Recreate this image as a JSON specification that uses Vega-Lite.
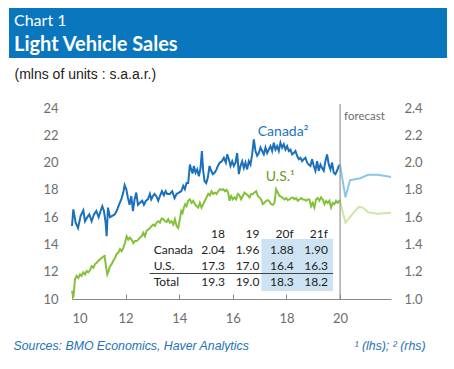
{
  "$schema": "https://vega.github.io/schema/vega-lite/v6.json",
  "padding": {"left": 9, "top": 7, "right": 7, "bottom": 0},
  "background": "white",
  "width": 319,
  "height": 191,
  "config": {
    "font": "Lato",
    "view": {"stroke": null},
    "axis": {"labelFont": "Lato", "titleFont": "Liberation Sans"}
  },
  "datasets": {
    "canada": [
      {"series":"Canada","t":2010.0,"v":1.535},{"series":"Canada","t":2010.05,"v":1.657},{"series":"Canada","t":2010.137,"v":1.56},{"series":"Canada","t":2010.224,"v":1.52},{"series":"Canada","t":2010.323,"v":1.61},{"series":"Canada","t":2010.422,"v":1.65},{"series":"Canada","t":2010.484,"v":1.57},{"series":"Canada","t":2010.571,"v":1.6},{"series":"Canada","t":2010.646,"v":1.62},{"series":"Canada","t":2010.733,"v":1.57},{"series":"Canada","t":2010.82,"v":1.62},{"series":"Canada","t":2010.907,"v":1.645},{"series":"Canada","t":2010.994,"v":1.6},
      {"series":"Canada","t":2011.068,"v":1.645},{"series":"Canada","t":2011.13,"v":1.68},{"series":"Canada","t":2011.193,"v":1.645},{"series":"Canada","t":2011.255,"v":1.56},{"series":"Canada","t":2011.292,"v":1.46},{"series":"Canada","t":2011.342,"v":1.67},{"series":"Canada","t":2011.416,"v":1.6},{"series":"Canada","t":2011.503,"v":1.61},{"series":"Canada","t":2011.59,"v":1.62},{"series":"Canada","t":2011.665,"v":1.645},{"series":"Canada","t":2011.752,"v":1.69},{"series":"Canada","t":2011.839,"v":1.73},{"series":"Canada","t":2011.913,"v":1.78},{"series":"Canada","t":2011.963,"v":1.835},
      {"series":"Canada","t":2012.025,"v":1.805},{"series":"Canada","t":2012.087,"v":1.74},{"series":"Canada","t":2012.149,"v":1.69},{"series":"Canada","t":2012.211,"v":1.755},{"series":"Canada","t":2012.273,"v":1.645},{"series":"Canada","t":2012.335,"v":1.73},{"series":"Canada","t":2012.398,"v":1.78},{"series":"Canada","t":2012.46,"v":1.69},{"series":"Canada","t":2012.534,"v":1.705},{"series":"Canada","t":2012.621,"v":1.72},{"series":"Canada","t":2012.683,"v":1.69},{"series":"Canada","t":2012.758,"v":1.72},{"series":"Canada","t":2012.832,"v":1.73},{"series":"Canada","t":2012.907,"v":1.77},{"series":"Canada","t":2012.957,"v":1.73},
      {"series":"Canada","t":2013.019,"v":1.755},{"series":"Canada","t":2013.081,"v":1.77},{"series":"Canada","t":2013.155,"v":1.75},{"series":"Canada","t":2013.217,"v":1.72},{"series":"Canada","t":2013.28,"v":1.755},{"series":"Canada","t":2013.354,"v":1.79},{"series":"Canada","t":2013.429,"v":1.76},{"series":"Canada","t":2013.491,"v":1.79},{"series":"Canada","t":2013.553,"v":1.77},{"series":"Canada","t":2013.652,"v":1.77},{"series":"Canada","t":2013.739,"v":1.79},{"series":"Canada","t":2013.826,"v":1.74},{"series":"Canada","t":2013.901,"v":1.77},{"series":"Canada","t":2013.988,"v":1.78},
      {"series":"Canada","t":2014.075,"v":1.79},{"series":"Canada","t":2014.149,"v":1.83},{"series":"Canada","t":2014.211,"v":1.805},{"series":"Canada","t":2014.273,"v":1.85},{"series":"Canada","t":2014.335,"v":1.85},{"series":"Canada","t":2014.398,"v":1.985},{"series":"Canada","t":2014.447,"v":1.95},{"series":"Canada","t":2014.497,"v":1.92},{"series":"Canada","t":2014.547,"v":1.975},{"series":"Canada","t":2014.609,"v":1.925},{"series":"Canada","t":2014.671,"v":1.95},{"series":"Canada","t":2014.733,"v":1.9},{"series":"Canada","t":2014.795,"v":1.96},{"series":"Canada","t":2014.845,"v":2.085},{"series":"Canada","t":2014.894,"v":1.94},{"series":"Canada","t":2014.944,"v":1.865},
      {"series":"Canada","t":2015.006,"v":1.85},{"series":"Canada","t":2015.068,"v":1.89},{"series":"Canada","t":2015.13,"v":1.975},{"series":"Canada","t":2015.193,"v":1.94},{"series":"Canada","t":2015.255,"v":1.915},{"series":"Canada","t":2015.317,"v":1.925},{"series":"Canada","t":2015.391,"v":1.95},{"series":"Canada","t":2015.441,"v":1.975},{"series":"Canada","t":2015.516,"v":2.0},{"series":"Canada","t":2015.59,"v":2.01},{"series":"Canada","t":2015.665,"v":2.035},{"series":"Canada","t":2015.739,"v":2.0},{"series":"Canada","t":2015.789,"v":2.06},{"series":"Canada","t":2015.851,"v":2.025},{"series":"Canada","t":2015.913,"v":1.975},{"series":"Canada","t":2015.975,"v":2.01},
      {"series":"Canada","t":2016.037,"v":1.975},{"series":"Canada","t":2016.099,"v":2.0},{"series":"Canada","t":2016.161,"v":2.07},{"series":"Canada","t":2016.224,"v":1.915},{"series":"Canada","t":2016.286,"v":1.975},{"series":"Canada","t":2016.348,"v":2.01},{"series":"Canada","t":2016.41,"v":1.96},{"series":"Canada","t":2016.472,"v":2.0},{"series":"Canada","t":2016.534,"v":1.95},{"series":"Canada","t":2016.596,"v":2.01},{"series":"Canada","t":2016.658,"v":1.985},{"series":"Canada","t":2016.72,"v":2.06},{"series":"Canada","t":2016.783,"v":2.17},{"series":"Canada","t":2016.845,"v":2.085},{"series":"Canada","t":2016.907,"v":2.05},{"series":"Canada","t":2016.969,"v":2.07},
      {"series":"Canada","t":2017.031,"v":2.11},{"series":"Canada","t":2017.093,"v":2.085},{"series":"Canada","t":2017.155,"v":2.06},{"series":"Canada","t":2017.217,"v":2.11},{"series":"Canada","t":2017.28,"v":2.07},{"series":"Canada","t":2017.342,"v":2.095},{"series":"Canada","t":2017.404,"v":2.12},{"series":"Canada","t":2017.466,"v":2.085},{"series":"Canada","t":2017.528,"v":2.145},{"series":"Canada","t":2017.59,"v":2.095},{"series":"Canada","t":2017.652,"v":2.12},{"series":"Canada","t":2017.714,"v":2.085},{"series":"Canada","t":2017.776,"v":2.145},{"series":"Canada","t":2017.839,"v":2.11},{"series":"Canada","t":2017.901,"v":2.135},{"series":"Canada","t":2017.963,"v":2.095},
      {"series":"Canada","t":2018.025,"v":2.12},{"series":"Canada","t":2018.087,"v":2.085},{"series":"Canada","t":2018.149,"v":2.095},{"series":"Canada","t":2018.211,"v":2.06},{"series":"Canada","t":2018.273,"v":2.07},{"series":"Canada","t":2018.335,"v":2.085},{"series":"Canada","t":2018.398,"v":2.05},{"series":"Canada","t":2018.46,"v":2.025},{"series":"Canada","t":2018.522,"v":2.035},{"series":"Canada","t":2018.584,"v":2.01},{"series":"Canada","t":2018.646,"v":2.025},{"series":"Canada","t":2018.708,"v":2.035},{"series":"Canada","t":2018.77,"v":2.0},{"series":"Canada","t":2018.832,"v":1.985},{"series":"Canada","t":2018.894,"v":1.975},{"series":"Canada","t":2018.957,"v":2.025},
      {"series":"Canada","t":2019.019,"v":1.975},{"series":"Canada","t":2019.081,"v":1.94},{"series":"Canada","t":2019.143,"v":2.01},{"series":"Canada","t":2019.205,"v":1.94},{"series":"Canada","t":2019.267,"v":1.985},{"series":"Canada","t":2019.329,"v":1.96},{"series":"Canada","t":2019.391,"v":1.94},{"series":"Canada","t":2019.453,"v":2.01},{"series":"Canada","t":2019.516,"v":2.06},{"series":"Canada","t":2019.578,"v":1.985},{"series":"Canada","t":2019.64,"v":1.95},{"series":"Canada","t":2019.702,"v":2.0},{"series":"Canada","t":2019.764,"v":1.925},{"series":"Canada","t":2019.826,"v":1.915},{"series":"Canada","t":2019.888,"v":1.94},{"series":"Canada","t":2019.95,"v":1.975},{"series":"Canada","t":2020.0,"v":1.985},
      {"series":"Canada f","t":2020.0,"v":1.985},{"series":"Canada f","t":2020.2,"v":1.745},{"series":"Canada f","t":2020.37,"v":1.87},{"series":"Canada f","t":2020.6,"v":1.88},{"series":"Canada f","t":2020.75,"v":1.885},{"series":"Canada f","t":2021.05,"v":1.91},{"series":"Canada f","t":2021.4,"v":1.91},{"series":"Canada f","t":2021.75,"v":1.9},{"series":"Canada f","t":2021.9,"v":1.895}
    ],
    "us": [
      {"series":"U.S.","t":2010.0,"v":10.6},{"series":"U.S.","t":2010.05,"v":10.1},{"series":"U.S.","t":2010.112,"v":11.45},{"series":"U.S.","t":2010.174,"v":11.7},{"series":"U.S.","t":2010.236,"v":11.55},{"series":"U.S.","t":2010.298,"v":11.8},{"series":"U.S.","t":2010.36,"v":11.7},{"series":"U.S.","t":2010.422,"v":11.95},{"series":"U.S.","t":2010.484,"v":11.8},{"series":"U.S.","t":2010.547,"v":12.05},{"series":"U.S.","t":2010.609,"v":11.95},{"series":"U.S.","t":2010.671,"v":12.1},{"series":"U.S.","t":2010.733,"v":12.4},{"series":"U.S.","t":2010.795,"v":12.3},{"series":"U.S.","t":2010.857,"v":12.55},{"series":"U.S.","t":2010.919,"v":12.65},{"series":"U.S.","t":2010.981,"v":12.8},
      {"series":"U.S.","t":2011.043,"v":12.9},{"series":"U.S.","t":2011.106,"v":13.0},{"series":"U.S.","t":2011.168,"v":13.1},{"series":"U.S.","t":2011.217,"v":13.15},{"series":"U.S.","t":2011.267,"v":12.4},{"series":"U.S.","t":2011.317,"v":11.8},{"series":"U.S.","t":2011.366,"v":12.05},{"series":"U.S.","t":2011.416,"v":12.4},{"series":"U.S.","t":2011.478,"v":12.55},{"series":"U.S.","t":2011.54,"v":12.8},{"series":"U.S.","t":2011.602,"v":13.0},{"series":"U.S.","t":2011.665,"v":13.3},{"series":"U.S.","t":2011.727,"v":13.4},{"series":"U.S.","t":2011.789,"v":13.65},{"series":"U.S.","t":2011.851,"v":13.5},{"series":"U.S.","t":2011.913,"v":13.75},{"series":"U.S.","t":2011.975,"v":14.1},
      {"series":"U.S.","t":2012.037,"v":14.6},{"series":"U.S.","t":2012.099,"v":14.35},{"series":"U.S.","t":2012.161,"v":14.5},{"series":"U.S.","t":2012.224,"v":14.35},{"series":"U.S.","t":2012.286,"v":14.1},{"series":"U.S.","t":2012.348,"v":14.25},{"series":"U.S.","t":2012.41,"v":14.25},{"series":"U.S.","t":2012.472,"v":14.35},{"series":"U.S.","t":2012.534,"v":14.5},{"series":"U.S.","t":2012.596,"v":14.6},{"series":"U.S.","t":2012.658,"v":14.85},{"series":"U.S.","t":2012.72,"v":14.6},{"series":"U.S.","t":2012.783,"v":15.0},{"series":"U.S.","t":2012.845,"v":15.1},{"series":"U.S.","t":2012.907,"v":15.2},{"series":"U.S.","t":2012.969,"v":15.35},
      {"series":"U.S.","t":2013.031,"v":15.45},{"series":"U.S.","t":2013.093,"v":15.35},{"series":"U.S.","t":2013.155,"v":15.6},{"series":"U.S.","t":2013.217,"v":15.7},{"series":"U.S.","t":2013.28,"v":15.6},{"series":"U.S.","t":2013.342,"v":15.9},{"series":"U.S.","t":2013.404,"v":15.85},{"series":"U.S.","t":2013.466,"v":15.7},{"series":"U.S.","t":2013.528,"v":15.65},{"series":"U.S.","t":2013.59,"v":15.85},{"series":"U.S.","t":2013.652,"v":15.6},{"series":"U.S.","t":2013.714,"v":15.7},{"series":"U.S.","t":2013.776,"v":15.45},{"series":"U.S.","t":2013.839,"v":15.85},{"series":"U.S.","t":2013.901,"v":15.35},{"series":"U.S.","t":2013.963,"v":15.2},
      {"series":"U.S.","t":2014.025,"v":15.85},{"series":"U.S.","t":2014.075,"v":16.45},{"series":"U.S.","t":2014.124,"v":16.3},{"series":"U.S.","t":2014.174,"v":16.7},{"series":"U.S.","t":2014.224,"v":16.95},{"series":"U.S.","t":2014.273,"v":16.8},{"series":"U.S.","t":2014.335,"v":17.2},{"series":"U.S.","t":2014.398,"v":17.3},{"series":"U.S.","t":2014.46,"v":17.05},{"series":"U.S.","t":2014.522,"v":17.2},{"series":"U.S.","t":2014.584,"v":16.95},{"series":"U.S.","t":2014.646,"v":16.8},{"series":"U.S.","t":2014.708,"v":16.7},{"series":"U.S.","t":2014.77,"v":17.05},{"series":"U.S.","t":2014.832,"v":16.7},{"series":"U.S.","t":2014.894,"v":16.95},{"series":"U.S.","t":2014.957,"v":17.2},
      {"series":"U.S.","t":2015.019,"v":17.45},{"series":"U.S.","t":2015.081,"v":17.7},{"series":"U.S.","t":2015.143,"v":17.6},{"series":"U.S.","t":2015.205,"v":17.9},{"series":"U.S.","t":2015.267,"v":17.7},{"series":"U.S.","t":2015.329,"v":17.8},{"series":"U.S.","t":2015.391,"v":17.7},{"series":"U.S.","t":2015.453,"v":17.9},{"series":"U.S.","t":2015.516,"v":18.05},{"series":"U.S.","t":2015.578,"v":18.0},{"series":"U.S.","t":2015.64,"v":18.05},{"series":"U.S.","t":2015.702,"v":17.9},{"series":"U.S.","t":2015.764,"v":18.0},{"series":"U.S.","t":2015.826,"v":17.8},{"series":"U.S.","t":2015.876,"v":17.2},{"series":"U.S.","t":2015.938,"v":17.55},
      {"series":"U.S.","t":2016.0,"v":17.3},{"series":"U.S.","t":2016.062,"v":17.45},{"series":"U.S.","t":2016.124,"v":17.3},{"series":"U.S.","t":2016.186,"v":17.7},{"series":"U.S.","t":2016.248,"v":17.6},{"series":"U.S.","t":2016.311,"v":17.3},{"series":"U.S.","t":2016.373,"v":17.55},{"series":"U.S.","t":2016.435,"v":17.8},{"series":"U.S.","t":2016.497,"v":17.7},{"series":"U.S.","t":2016.559,"v":17.6},{"series":"U.S.","t":2016.621,"v":17.45},{"series":"U.S.","t":2016.683,"v":17.7},{"series":"U.S.","t":2016.745,"v":17.7},{"series":"U.S.","t":2016.807,"v":17.8},{"series":"U.S.","t":2016.87,"v":17.9},{"series":"U.S.","t":2016.932,"v":17.55},{"series":"U.S.","t":2016.994,"v":17.45},
      {"series":"U.S.","t":2017.056,"v":17.3},{"series":"U.S.","t":2017.118,"v":16.95},{"series":"U.S.","t":2017.18,"v":17.05},{"series":"U.S.","t":2017.242,"v":17.2},{"series":"U.S.","t":2017.304,"v":17.25},{"series":"U.S.","t":2017.366,"v":17.15},{"series":"U.S.","t":2017.429,"v":16.95},{"series":"U.S.","t":2017.491,"v":16.9},{"series":"U.S.","t":2017.553,"v":17.05},{"series":"U.S.","t":2017.615,"v":18.05},{"series":"U.S.","t":2017.677,"v":17.8},{"series":"U.S.","t":2017.739,"v":17.55},{"series":"U.S.","t":2017.801,"v":17.5},{"series":"U.S.","t":2017.863,"v":17.4},{"series":"U.S.","t":2017.925,"v":17.3},{"series":"U.S.","t":2017.988,"v":17.4},
      {"series":"U.S.","t":2018.05,"v":17.25},{"series":"U.S.","t":2018.112,"v":17.3},{"series":"U.S.","t":2018.174,"v":17.4},{"series":"U.S.","t":2018.236,"v":17.45},{"series":"U.S.","t":2018.298,"v":17.3},{"series":"U.S.","t":2018.36,"v":17.4},{"series":"U.S.","t":2018.422,"v":17.2},{"series":"U.S.","t":2018.484,"v":17.3},{"series":"U.S.","t":2018.547,"v":17.4},{"series":"U.S.","t":2018.609,"v":17.3},{"series":"U.S.","t":2018.671,"v":17.3},{"series":"U.S.","t":2018.733,"v":17.2},{"series":"U.S.","t":2018.795,"v":17.3},{"series":"U.S.","t":2018.857,"v":17.3},{"series":"U.S.","t":2018.919,"v":16.8},{"series":"U.S.","t":2018.981,"v":17.05},
      {"series":"U.S.","t":2019.043,"v":16.7},{"series":"U.S.","t":2019.106,"v":17.3},{"series":"U.S.","t":2019.168,"v":17.4},{"series":"U.S.","t":2019.23,"v":17.2},{"series":"U.S.","t":2019.292,"v":17.45},{"series":"U.S.","t":2019.354,"v":17.3},{"series":"U.S.","t":2019.416,"v":16.95},{"series":"U.S.","t":2019.478,"v":17.2},{"series":"U.S.","t":2019.54,"v":17.05},{"series":"U.S.","t":2019.602,"v":17.2},{"series":"U.S.","t":2019.665,"v":16.7},{"series":"U.S.","t":2019.727,"v":17.05},{"series":"U.S.","t":2019.789,"v":16.95},{"series":"U.S.","t":2019.851,"v":17.2},{"series":"U.S.","t":2019.913,"v":17.05},{"series":"U.S.","t":2019.975,"v":17.2},{"series":"U.S.","t":2020.0,"v":17.15},
      {"series":"U.S. f","t":2020.0,"v":17.15},{"series":"U.S. f","t":2020.2,"v":15.6},{"series":"U.S. f","t":2020.45,"v":16.2},{"series":"U.S. f","t":2020.7,"v":16.75},{"series":"U.S. f","t":2020.85,"v":16.7},{"series":"U.S. f","t":2021.05,"v":16.35},{"series":"U.S. f","t":2021.4,"v":16.25},{"series":"U.S. f","t":2021.9,"v":16.33}
    ],
    "table": [
      {"row":"hdr","col":"18","text":"18"},{"row":"hdr","col":"19","text":"19"},{"row":"hdr","col":"20f","text":"20f"},{"row":"hdr","col":"21f","text":"21f"},
      {"row":"Canada","col":"label","text":"Canada"},{"row":"Canada","col":"18","text":"2.04"},{"row":"Canada","col":"19","text":"1.96"},{"row":"Canada","col":"20f","text":"1.88"},{"row":"Canada","col":"21f","text":"1.90"},
      {"row":"U.S.","col":"label","text":"U.S."},{"row":"U.S.","col":"18","text":"17.3"},{"row":"U.S.","col":"19","text":"17.0"},{"row":"U.S.","col":"20f","text":"16.4"},{"row":"U.S.","col":"21f","text":"16.3"},
      {"row":"Total","col":"label","text":"Total"},{"row":"Total","col":"18","text":"19.3"},{"row":"Total","col":"19","text":"19.0"},{"row":"Total","col":"20f","text":"18.3"},{"row":"Total","col":"21f","text":"18.2"}
    ],
    "notes": [
      {"label": "note"}
    ]
  },
  "resolve": {"scale": {"x": "independent", "y": "independent"}},
  "layer": [
    {
      "data": {"name": "notes"},
      "mark": {"type": "rect", "color": "#0a76be"},
      "encoding": {
        "x": {"datum": 2007.65, "type": "quantitative", "scale": {"domain": [2010, 2021.9], "nice": false, "zero": false}, "axis": null},
        "x2": {"datum": 2023.99},
        "y": {"datum": 31.33, "type": "quantitative", "scale": {"domain": [10, 24], "nice": false, "zero": false}, "axis": null},
        "y2": {"datum": 27.665}
      }
    },
    {
      "data": {"name": "notes"},
      "mark": {"type": "text", "align": "left", "baseline": "alphabetic", "fontSize": 16, "color": "white"},
      "encoding": {
        "x": {"datum": 2007.836, "type": "quantitative", "scale": {"domain": [2010, 2021.9], "nice": false, "zero": false}, "axis": null},
        "y": {"datum": 30.01, "type": "quantitative", "scale": {"domain": [10, 24], "nice": false, "zero": false}, "axis": null},
        "text": {"value": "Chart 1"}
      }
    },
    {
      "data": {"name": "notes"},
      "mark": {"type": "text", "align": "left", "baseline": "alphabetic", "fontSize": 20, "fontWeight": "bold", "color": "white"},
      "encoding": {
        "x": {"datum": 2007.836, "type": "quantitative", "scale": {"domain": [2010, 2021.9], "nice": false, "zero": false}, "axis": null},
        "y": {"datum": 28.18, "type": "quantitative", "scale": {"domain": [10, 24], "nice": false, "zero": false}, "axis": null},
        "text": {"value": "Light Vehicle Sales"}
      }
    },
    {
      "data": {"name": "us"},
      "mark": {"type": "line", "strokeWidth": 2},
      "encoding": {
        "x": {
          "field": "t", "type": "quantitative",
          "scale": {"domain": [2010, 2021.9], "nice": false, "zero": false},
          "axis": {
            "values": [2010, 2012, 2014, 2016, 2018, 2020],
            "labelExpr": "format(datum.value - 2000, 'd')",
            "grid": false,
            "tickSize": -5,
            "tickColor": "#8a8a8a",
            "domainColor": "#8a8a8a",
            "labelColor": "#6d6d6d",
            "labelFontSize": 13,
            "labelPadding": 18,
            "title": "Sources: BMO Economics, Haver Analytics",
            "titleX": -59,
            "titleY": 50,
            "titleAlign": "left",
            "titleAnchor": null,
            "titleBaseline": "alphabetic",
            "titleFont": "Liberation Sans",
            "titleFontStyle": "italic",
            "titleFontWeight": "normal",
            "titleFontSize": 12.3,
            "titleColor": "#2471b8"
          }
        },
        "y": {
          "field": "v", "type": "quantitative",
          "scale": {"domain": [10, 24], "nice": false, "zero": false},
          "axis": {
            "values": [10, 12, 14, 16, 18, 20, 22, 24],
            "format": "d",
            "grid": false,
            "ticks": false,
            "domain": false,
            "labelPadding": 14,
            "labelColor": "#6d6d6d",
            "labelFontSize": 13,
            "title": "(mlns of units : s.a.a.r.)",
            "titleAngle": 0,
            "titleX": -58,
            "titleY": -34,
            "titleAlign": "left",
            "titleAnchor": null,
            "titleBaseline": "middle",
            "titleFont": "Liberation Sans",
            "titleFontSize": 14,
            "titleFontWeight": "normal",
            "titleColor": "#222222"
          }
        },
        "color": {
          "field": "series", "type": "nominal",
          "scale": {"domain": ["Canada", "Canada f", "U.S.", "U.S. f"], "range": ["#1a70bb", "#8cc5ea", "#84c13b", "#cde7a5"]},
          "legend": null
        }
      }
    },
    {
      "data": {"name": "canada"},
      "mark": {"type": "line", "strokeWidth": 2},
      "encoding": {
        "x": {"field": "t", "type": "quantitative", "scale": {"domain": [2010, 2021.9], "nice": false, "zero": false}, "axis": null},
        "y": {
          "field": "v", "type": "quantitative",
          "scale": {"domain": [1.0, 2.4], "nice": false, "zero": false},
          "axis": {
            "orient": "right",
            "values": [1.0, 1.2, 1.4, 1.6, 1.8, 2.0, 2.2, 2.4],
            "format": ".1f",
            "grid": false,
            "ticks": false,
            "domain": false,
            "labelPadding": 13,
            "labelColor": "#6d6d6d",
            "labelFontSize": 13,
            "title": "\u00b9 (lhs); \u00b2 (rhs)",
            "titleAngle": 0,
            "titleX": 34,
            "titleY": 241,
            "titleAlign": "right",
            "titleAnchor": null,
            "titleBaseline": "alphabetic",
            "titleFont": "Liberation Sans",
            "titleFontStyle": "italic",
            "titleFontWeight": "normal",
            "titleFontSize": 12.3,
            "titleColor": "#2471b8"
          }
        },
        "color": {"field": "series", "type": "nominal", "legend": null}
      }
    },
    {
      "data": {"name": "notes"},
      "mark": {"type": "rule", "color": "#808080", "strokeWidth": 1},
      "encoding": {
        "x": {"datum": 2020, "type": "quantitative", "scale": {"domain": [2010, 2021.9], "nice": false, "zero": false}, "axis": null},
        "y": {"datum": 24.3, "type": "quantitative", "scale": {"domain": [10, 24], "nice": false, "zero": false}, "axis": null},
        "y2": {"datum": 10}
      }
    },
    {
      "data": {"name": "notes"},
      "mark": {"type": "text", "align": "left", "baseline": "middle", "fontSize": 11.5, "color": "#6d6d6d"},
      "encoding": {
        "x": {"datum": 2020.15, "type": "quantitative", "scale": {"domain": [2010, 2021.9], "nice": false, "zero": false}, "axis": null},
        "y": {"datum": 23.34, "type": "quantitative", "scale": {"domain": [10, 24], "nice": false, "zero": false}, "axis": null},
        "text": {"value": "forecast"}
      }
    },
    {
      "data": {"name": "notes"},
      "mark": {"type": "text", "align": "left", "baseline": "alphabetic", "fontSize": 14, "color": "#1d74bd"},
      "encoding": {
        "x": {"datum": 2016.93, "type": "quantitative", "scale": {"domain": [2010, 2021.9], "nice": false, "zero": false}, "axis": null},
        "y": {"datum": 21.95, "type": "quantitative", "scale": {"domain": [10, 24], "nice": false, "zero": false}, "axis": null},
        "text": {"value": "Canada\u00b2"}
      }
    },
    {
      "data": {"name": "notes"},
      "mark": {"type": "text", "align": "left", "baseline": "alphabetic", "fontSize": 14, "color": "#6a9a23"},
      "encoding": {
        "x": {"datum": 2017.23, "type": "quantitative", "scale": {"domain": [2010, 2021.9], "nice": false, "zero": false}, "axis": null},
        "y": {"datum": 18.65, "type": "quantitative", "scale": {"domain": [10, 24], "nice": false, "zero": false}, "axis": null},
        "text": {"value": "U.S.\u00b9"}
      }
    },
    {
      "layer": [
        {
          "data": {"values": [{"c0": "19", "c1": "21f", "r0": "hdr", "r1": "Total"}]},
          "mark": {"type": "rect", "color": "#cde3f3", "xOffset": 2, "x2Offset": 5, "yOffset": 5, "y2Offset": 9},
          "encoding": {
            "x": {"field": "c0", "type": "nominal", "scale": {"type": "point", "domain": ["label", "18", "19", "20f", "21f"], "range": [118.7, 256], "padding": 0}, "axis": null},
            "x2": {"field": "c1"},
            "y": {"field": "r0", "type": "nominal", "scale": {"type": "point", "domain": ["hdr", "Canada", "U.S.", "Total"], "range": [126, 174], "padding": 0}, "axis": null},
            "y2": {"field": "r1"}
          }
        },
        {
          "data": {"values": [{"c0": "label", "c1": "21f", "r": "U.S."}]},
          "mark": {"type": "rule", "color": "#444444", "strokeWidth": 1, "xOffset": -41, "x2Offset": 5, "yOffset": 7.5},
          "encoding": {
            "x": {"field": "c0", "type": "nominal", "scale": {"type": "point", "domain": ["label", "18", "19", "20f", "21f"], "range": [118.7, 256], "padding": 0}, "axis": null},
            "x2": {"field": "c1"},
            "y": {"field": "r", "type": "nominal", "scale": {"type": "point", "domain": ["hdr", "Canada", "U.S.", "Total"], "range": [126, 174], "padding": 0}, "axis": null}
          }
        },
        {
          "data": {"name": "table"},
          "transform": [{"filter": "datum.col !== 'label'"}],
          "mark": {"type": "text", "align": "right", "baseline": "middle", "fontSize": 12, "color": "#222222"},
          "encoding": {
            "x": {"field": "col", "type": "nominal", "scale": {"type": "point", "domain": ["label", "18", "19", "20f", "21f"], "range": [118.7, 256], "padding": 0}, "axis": null},
            "y": {"field": "row", "type": "nominal", "scale": {"type": "point", "domain": ["hdr", "Canada", "U.S.", "Total"], "range": [126, 174], "padding": 0}, "axis": null},
            "text": {"field": "text"}
          }
        },
        {
          "data": {"name": "table"},
          "transform": [{"filter": "datum.col === 'label'"}],
          "mark": {"type": "text", "align": "left", "baseline": "middle", "fontSize": 12, "color": "#222222", "dx": -37},
          "encoding": {
            "x": {"field": "col", "type": "nominal", "scale": {"type": "point", "domain": ["label", "18", "19", "20f", "21f"], "range": [118.7, 256], "padding": 0}, "axis": null},
            "y": {"field": "row", "type": "nominal", "scale": {"type": "point", "domain": ["hdr", "Canada", "U.S.", "Total"], "range": [126, 174], "padding": 0}, "axis": null},
            "text": {"field": "text"}
          }
        }
      ]
    }
  ]
}
